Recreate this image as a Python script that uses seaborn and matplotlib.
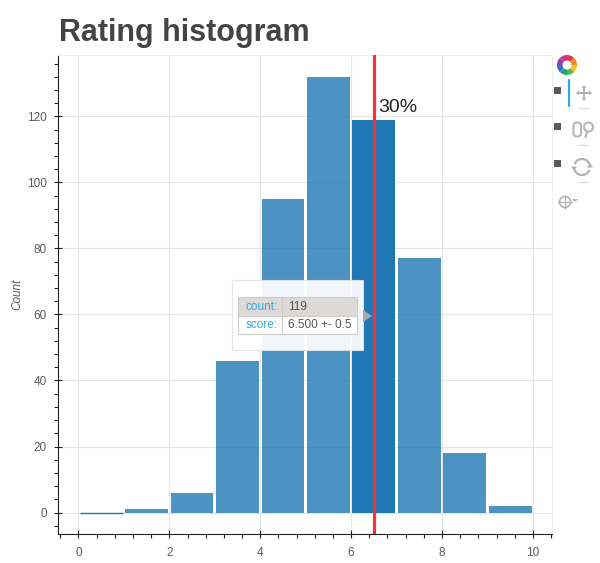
import numpy as np
import seaborn as sns
import matplotlib.pyplot as plt
from matplotlib.patches import Rectangle, Circle, Wedge, FancyBboxPatch, Arc, Polygon
from matplotlib.ticker import MultipleLocator

bin_edges = [0, 1, 2, 3, 4, 5, 6, 7, 8, 9, 10]
bin_centers = [0.5, 1.5, 2.5, 3.5, 4.5, 5.5, 6.5, 7.5, 8.5, 9.5]
counts = [0, 1, 6, 46, 95, 132, 119, 77, 18, 2]
hovered_bin = 6
marker_x = 6.5
marker_label = "30%"
tooltip_rows = [("count:", "119"), ("score:", "6.500 +- 0.5")]

sns.set_theme(style="white")
plt.rcParams["font.family"] = ["Liberation Sans", "DejaVu Sans"]

BLUE = "#1f77b4"
GREY = "#444444"
TICK_TEXT = "#5a5a5a"
ICON = "#b5b5b5"

fig = plt.figure(figsize=(6, 5.63), dpi=100)
ax = fig.add_axes([58 / 600, 1 - 534 / 563, (552 - 58) / 600, (534 - 55) / 563])

sns.histplot(x=bin_centers, weights=counts, bins=bin_edges, shrink=0.94,
             color=BLUE, alpha=0.8, linewidth=0, ax=ax)

# hovered bar is solid, the empty bin still shows as a thin line
ax.patches[hovered_bin].set_alpha(1)
ax.patches[0].set_edgecolor(BLUE)
ax.patches[0].set_linewidth(1)

ax.axvline(marker_x, color="#f2333b", lw=2.3, zorder=5)
ax.text(marker_x + 0.09, 120, marker_label, fontsize=14, color="#222222", va="bottom", zorder=6)

ax.set_xlim(-0.45, 10.42)
ax.set_ylim(-6.5, 138.6)
ax.xaxis.set_major_locator(MultipleLocator(2))
ax.xaxis.set_minor_locator(MultipleLocator(0.4))
ax.yaxis.set_major_locator(MultipleLocator(20))
ax.yaxis.set_minor_locator(MultipleLocator(4))
ax.grid(True, which="major", color="#e6e6e6", lw=0.8)
ax.set_axisbelow(True)

ax.tick_params(which="major", direction="inout", length=6, width=0.8, color="#222222",
               labelsize=8.5, labelcolor=TICK_TEXT, left=True, bottom=True)
ax.tick_params(axis="x", which="major", pad=6)
ax.tick_params(axis="y", which="major", pad=5)
ax.tick_params(which="minor", direction="out", length=3, width=0.8, color="#222222", left=True, bottom=True)
for side in ["left", "bottom"]:
    ax.spines[side].set_color("#222222")
    ax.spines[side].set_linewidth(0.8)
for side in ["top", "right"]:
    ax.spines[side].set_color("#eeeeee")
    ax.spines[side].set_linewidth(0.8)

ax.set_xlabel("")
ax.set_ylabel("Count", fontsize=8.5, style="italic", color=TICK_TEXT)
ax.yaxis.set_label_coords(-35 / 494, 0.5)

fig.text(59 / 600, 1 - 41 / 563, "Rating histogram", fontsize=22, fontweight="bold", color=GREY)

# overlay in pixel coordinates for the tooltip and the toolbar
ov = fig.add_axes([0, 0, 1, 1], zorder=10)
ov.set_xlim(0, 600)
ov.set_ylim(563, 0)
ov.axis("off")
ov.patch.set_alpha(0)

# tooltip
ov.add_patch(Rectangle((232, 280), 131, 70, fc="white", ec="#e3e3e3", lw=0.8, alpha=0.93))
ov.add_patch(Rectangle((238, 297), 119, 19, fc="#dcd9d6", ec="none"))
ov.add_patch(Rectangle((238, 316), 119, 18, fc="white", ec="none"))
ov.add_patch(Rectangle((238, 297), 119, 37, fc="none", ec="#cfccc9", lw=0.8))
ov.plot([238, 357], [316, 316], color="#cfccc9", lw=0.8)
ov.plot([282, 282], [297, 334], color="#cfccc9", lw=0.8)
ov.add_patch(Polygon([(363, 310), (372, 316), (363, 322)], fc="#a9a9a9", ec="none"))
for (key, val), y in zip(tooltip_rows, [306.5, 325]):
    ov.text(278, y, key, fontsize=8.5, color="#33a9e0", ha="right", va="center")
    ov.text(288, y, val, fontsize=8.5, color="#555555", ha="left", va="center")

# logo ring
logo_colors = ["#e23b3b", "#f08a24", "#f4c51e", "#58b947", "#1fa37a", "#2f6fd0", "#8e3fb0", "#d1338c"]
for i, c in enumerate(logo_colors):
    ov.add_patch(Wedge((567, 65), 10, 45 * i - 90, 45 * (i + 1) - 90, width=5.5, fc=c, ec="none"))

# toolbar
for y in [90, 126, 163]:
    ov.add_patch(Rectangle((553.5, y - 3.5), 7, 7, fc="#5a5a5a", ec="none"))
for y in [108, 145, 182]:
    ov.plot([578, 588], [y, y], color="#dddddd", lw=1)
ov.plot([569, 569], [80, 106], color="#33a9e0", lw=1.6)

# pan icon
ov.plot([578, 590], [93, 93], color=ICON, lw=1.5)
ov.plot([584, 584], [87, 99], color=ICON, lw=1.5)
for pts in [[(576, 93), (579, 90.5), (579, 95.5)], [(592, 93), (589, 90.5), (589, 95.5)],
            [(584, 85), (581.5, 88), (586.5, 88)], [(584, 101), (581.5, 98), (586.5, 98)]]:
    ov.add_patch(Polygon(pts, fc=ICON, ec="none"))

# wheel zoom icons
ov.add_patch(FancyBboxPatch((573.5, 122.5), 7.5, 14, boxstyle="round,pad=0,rounding_size=3.5", fc="none", ec=ICON, lw=1.5))
ov.add_patch(Circle((588.5, 127), 4.5, fc="none", ec=ICON, lw=1.5))
ov.plot([587, 585.5], [131.5, 137], color=ICON, lw=1.5)

# reset icon
ov.add_patch(Arc((582, 167), 16, 16, theta1=200, theta2=340, ec=ICON, lw=1.6))
ov.add_patch(Arc((582, 167), 16, 16, theta1=20, theta2=160, ec=ICON, lw=1.6))
ov.add_patch(Polygon([(590, 163), (593, 167.5), (587, 167.5)], fc=ICON, ec="none"))
ov.add_patch(Polygon([(574, 171), (571, 166.5), (577, 166.5)], fc=ICON, ec="none"))

# crosshair icon
ov.add_patch(Circle((565, 202), 5.5, fc="none", ec=ICON, lw=1.2))
ov.plot([558, 572], [202, 202], color=ICON, lw=0.9)
ov.plot([565, 565], [195, 209], color=ICON, lw=0.9)
ov.add_patch(Polygon([(572, 199), (578, 199), (575, 202)], fc=ICON, ec="none"))

plt.savefig("out.png", dpi=100)
